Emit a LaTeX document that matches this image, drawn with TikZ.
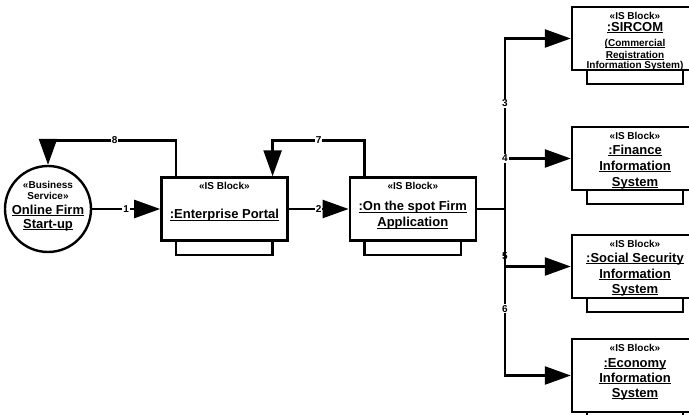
\documentclass[tikz,border=0pt]{standalone}
\usepackage{fontspec}
\setmainfont{Liberation Sans}
\usetikzlibrary{arrows.meta, positioning}
\newcommand{\ster}[1]{{\fontsize{10}{12}\selectfont #1}}
\newcommand{\nm}[1]{\setbox0\hbox{#1}\rlap{\rule[-2pt]{\wd0}{1.1pt}}\box0}
\newcommand{\smnm}[1]{{\fontsize{10}{12}\selectfont\setbox0\hbox{#1}\rlap{\rule[-1.6pt]{\wd0}{0.9pt}}\box0}}
\tikzset{IsFlow/.style={
    x=1pt, y=-1pt,
    node distance = 5mm and 10mm,
    base/.style = {draw, line width=2.4pt, inner sep=0pt, font=\fontsize{13}{16}\selectfont\bfseries},
    service/.style = {base, circle, minimum size=86pt,
        label={[servtext]center:{##1}}},
    servtext/.style = {anchor=center, align=center, yshift=3pt, inner sep=0pt, font=\fontsize{13}{16}\selectfont\bfseries},
    block/.style = {base, minimum width=126pt, minimum height=63pt,
        label={[blocktext]north:{##1}}},
    blocktext/.style = {anchor=north, align=center, inner sep=6pt, font=\fontsize{13}{16}\selectfont\bfseries},
    num/.style = {fill=white, inner sep=1pt, font=\fontsize{10}{12}\selectfont\bfseries},
    flow/.style = {line width=2.4pt, -{Triangle[length=26pt, width=18pt]}},
    tab/.style = {line width=2.4pt}
}}

\begin{document}
\begin{tikzpicture}[IsFlow]
    \useasboundingbox (0,0) rectangle (689,415);

    \node [service={\ster{«Business}\\[-5pt]\ster{Service»}\\[-1pt]\nm{Online Firm}\\[-2pt]\nm{Start-up}}] (circ) at (48,209) {};
    \node [block={\ster{«IS Block»}\\[13pt]\nm{:Enterprise Portal}}, right=68pt of circ] (ep) {};
    \node [block={\ster{«IS Block»}\\[5pt]\nm{:On the spot Firm}\\\nm{Application}}, right=60pt of ep] (ots) {};

    \node [block={\ster{«IS Block»}\\[-4pt]\nm{:SIRCOM}\\[-1pt]\smnm{(Commercial}\\[-4pt]\smnm{Registration}\\[-6pt]\smnm{Information System)}}] (sir) at (635,38.5) {};
    \node [block={\ster{«IS Block»}\\[-1pt]\nm{:Finance}\\\nm{Information}\\\nm{System}}] (fin) at (635,158.5) {};
    \node [block={\ster{«IS Block»}\\[-1pt]\nm{:Social Security}\\\nm{Information}\\[-1pt]\nm{System}}] (soc) at (635,266.5) {};
    \node [block={\ster{«IS Block»}\\\nm{:Economy}\\[-1pt]\nm{Information}\\[-1pt]\nm{System}}, minimum height=73pt] (eco) at (635,375.5) {};

    % bottom tabs of the blocks
    \foreach \b in {ep,ots,sir,fin,soc,eco}
        \draw [tab] ([xshift=16pt]\b.south west) -- ++(0,13) -| ([xshift=-16pt]\b.south east);

    \draw [flow] (circ) -- node[num] {1} (ep);
    \draw [flow] (ep) -- node[num] {2} (ots);
    \draw [flow] ([xshift=16pt]ep.north west) -- ++(0,-36) -| node[num, pos=0.24] {8} (circ.north);
    \draw [flow] ([xshift=16pt]ots.north west) -- ++(0,-36) -| node[num, pos=0.25] {7} ([xshift=-16pt]ep.north east);

    \coordinate (bus) at ([xshift=28pt]ots.east);
    \draw [flow] (ots.east) -- (bus) |- node[num, pos=0.31] {3} (sir.west);
    \draw [flow] (ots.east) -- (bus) |- node[num, pos=0.5] {4} (fin.west);
    \draw [flow] (ots.east) -- (bus) |- node[num, pos=0.41] {5} (soc.west);
    \draw [flow] (ots.east) -- (bus) |- node[num, pos=0.3] {6} (eco.west);
\end{tikzpicture}
\end{document}
